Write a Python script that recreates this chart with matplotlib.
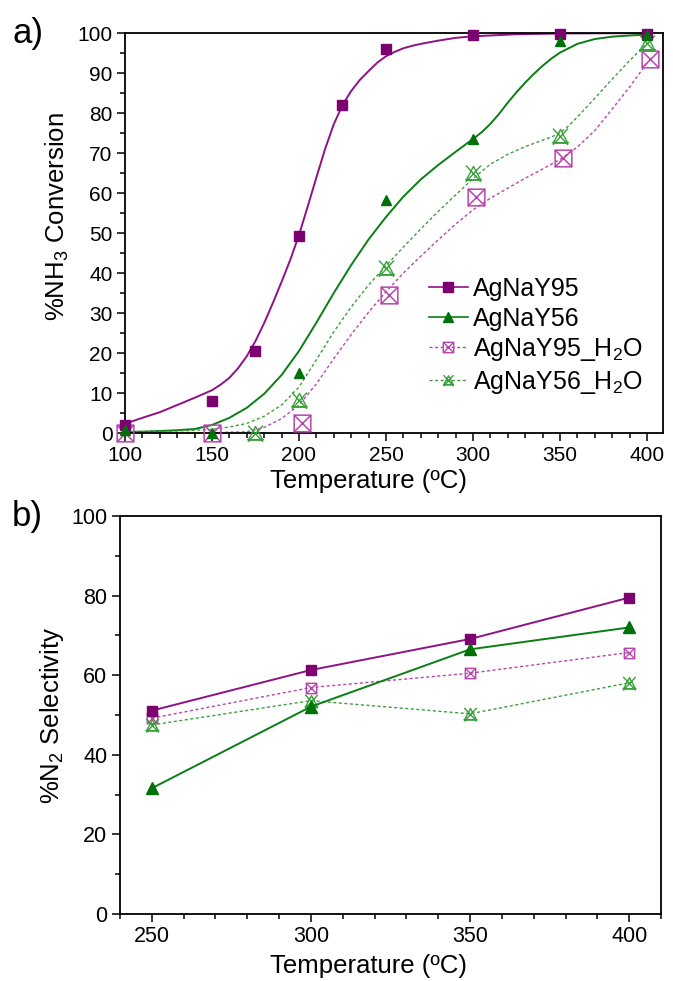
import matplotlib
matplotlib.use("Agg")
import matplotlib.pyplot as plt
from matplotlib.path import Path
from matplotlib.lines import Line2D
from matplotlib.ticker import MultipleLocator

plt.rcParams["font.family"] = ["Liberation Sans", "DejaVu Sans"]
plt.rcParams["mathtext.fontset"] = "custom"
plt.rcParams["mathtext.rm"] = "Liberation Sans"
plt.rcParams["mathtext.it"] = "Liberation Sans:italic"
plt.rcParams["mathtext.default"] = "regular"

# ---------------- data: NH3 conversion (panel a) ----------------
t95 = [100, 150, 175, 200, 225, 250, 300, 350, 400]
conv95 = [2.0, 8.1, 20.4, 49.3, 82.0, 95.9, 99.6, 99.8, 99.7]

t56 = [100, 150, 200, 250, 300, 350, 400]
conv56 = [0.8, 0.0, 14.9, 58.2, 73.5, 97.9, 99.6]

t95w = [100, 150, 202, 252, 302, 352, 402]
conv95w = [0.0, 0.0, 2.6, 34.5, 58.9, 68.8, 93.4]

t56w = [175, 200, 250, 300, 350, 400]
conv56w = [0.0, 8.2, 41.2, 65.0, 74.3, 97.4]

# fitted trend curves
fit95_t = [100, 110, 120, 130, 140, 150, 155, 160, 165, 170, 175, 180, 185,
           190, 195, 200, 205, 210, 215, 220, 225, 230, 235, 240, 245, 250,
           255, 260, 265, 270, 280, 290, 300, 325, 350, 400]
fit95_v = [2.3, 3.8, 5.2, 7.0, 8.8, 10.7, 12.1, 13.8, 16.2, 19.2, 23.0, 27.5,
           32.5, 37.8, 43.3, 49.5, 56.6, 63.9, 71.0, 77.2, 82.0, 85.5, 88.3,
           90.5, 92.6, 94.2, 95.3, 96.2, 96.8, 97.3, 98.1, 98.8, 99.2, 99.7,
           99.9, 100.0]

fit56_t = [100, 110, 120, 130, 140, 150, 160, 170, 180, 190, 200, 210, 220,
           230, 240, 250, 260, 270, 280, 290, 300, 305, 310, 315, 320, 325,
           330, 335, 340, 345, 350, 360, 370, 380, 390, 400]
fit56_v = [0.3, 0.35, 0.5, 0.7, 1.0, 2.0, 3.8, 6.3, 9.8, 14.5, 20.5, 27.6,
           35.0, 42.0, 48.4, 54.0, 59.1, 63.4, 67.0, 70.3, 73.5, 75.2, 77.3,
           79.8, 82.6, 85.2, 87.6, 89.8, 91.8, 93.6, 95.1, 97.3, 98.5, 99.1,
           99.4, 99.6]

fit95w_t = [100, 150, 170, 180, 190, 200, 210, 220, 230, 240, 250, 260, 270,
            280, 290, 300, 310, 320, 330, 340, 350, 360, 370, 380, 390, 400]
fit95w_v = [0.1, 0.1, 0.3, 1.4, 3.6, 7.0, 12.3, 18.6, 24.6, 30.2, 35.3, 40.0,
            44.2, 48.3, 52.2, 55.8, 58.7, 61.2, 63.7, 66.0, 68.4, 71.5, 75.6,
            81.0, 86.5, 92.5]

fit56w_t = [100, 125, 150, 160, 170, 180, 190, 200, 210, 220, 230, 240, 250,
            260, 270, 280, 290, 300, 310, 320, 330, 340, 345, 350, 355, 360,
            370, 380, 390, 400]
fit56w_v = [0.2, 0.4, 0.9, 1.5, 2.4, 4.2, 7.0, 11.5, 18.3, 25.3, 31.5, 37.0,
            41.8, 46.5, 51.0, 55.4, 59.5, 63.6, 67.2, 69.7, 71.6, 73.2, 74.0,
            75.0, 76.8, 79.0, 83.7, 88.5, 93.1, 97.4]

# ---------------- data: N2 selectivity (panel b) ----------------
tsel = [250, 300, 350, 400]
sel95 = [51.1, 61.3, 69.1, 79.5]
sel56 = [31.6, 52.1, 66.5, 72.0]
sel95w = [49.2, 56.9, 60.5, 65.7]
sel56w = [47.5, 53.6, 50.3, 58.1]

labels = ["AgNaY95", "AgNaY56", "AgNaY95_H$_2$O", "AgNaY56_H$_2$O"]

# ---------------- styles ----------------
PURPLE = "#7d0070"
PURPLE_LINE = "#8e1286"
GREEN = "#00700a"
GREEN_LINE = "#0a7d14"
PURPLE_LIGHT = "#b845ae"
GREEN_LIGHT = "#3aa03a"

M, L, C = Path.MOVETO, Path.LINETO, Path.CLOSEPOLY
box_x = Path([(-1, -1), (1, -1), (1, 1), (-1, 1), (-1, -1),
              (-1, -1), (1, 1), (-1, 1), (1, -1)],
             [M, L, L, L, C, M, L, M, L])
tri_x = Path([(-0.85, -0.75), (0.85, -0.75), (0, 0.85), (-0.85, -0.75),
              (-0.9, -1.0), (0.9, 0.95), (-0.9, 0.95), (0.9, -1.0),
              (-1.0, -0.75), (1.0, -0.75)],
             [M, L, L, C, M, L, M, L, M, L])

DOT = (0, (2.2, 1.8))
LABEL_SIZE = 18.5

fig = plt.figure(figsize=(6.73, 9.81), dpi=100)
ax1 = fig.add_axes([0.1857, 0.5586, 0.7994, 0.4077])
ax2 = fig.add_axes([0.1783, 0.0683, 0.8039, 0.4057])


def style_axes(ax, tick_size):
    for s in ax.spines.values():
        s.set_linewidth(1.3)
    ax.tick_params(which="both", direction="out", top=False, right=False,
                   labelsize=tick_size, width=1.1, pad=3)
    ax.tick_params(which="major", length=6)
    ax.tick_params(which="minor", length=3.5)


# ---------------- panel a ----------------
ax1.plot(fit95_t, fit95_v, color=PURPLE_LINE, lw=1.4)
ax1.plot(fit56_t, fit56_v, color=GREEN_LINE, lw=1.4)
ax1.plot(fit95w_t, fit95w_v, color=PURPLE_LIGHT, lw=1.0, ls=DOT)
ax1.plot(fit56w_t, fit56w_v, color=GREEN_LIGHT, lw=1.0, ls=DOT)

ax1.plot(t95, conv95, ls="none", marker="s", ms=6.5, color=PURPLE, clip_on=False, zorder=4)
ax1.plot(t56, conv56, ls="none", marker="^", ms=7.5, color=GREEN, clip_on=False, zorder=4)
ax1.plot(t95w, conv95w, ls="none", marker=box_x, ms=12, mfc="none",
         mec=PURPLE_LIGHT, mew=1.1, clip_on=False, zorder=3)
ax1.plot(t56w, conv56w, ls="none", marker=tri_x, ms=12, mfc="none",
         mec=GREEN_LIGHT, mew=1.0, clip_on=False, zorder=3)

ax1.set_xlim(100, 409.2)
ax1.set_ylim(0, 100)
ax1.xaxis.set_major_locator(MultipleLocator(50))
ax1.xaxis.set_minor_locator(MultipleLocator(10))
ax1.yaxis.set_major_locator(MultipleLocator(10))
ax1.yaxis.set_minor_locator(MultipleLocator(5))
style_axes(ax1, 15)
ax1.set_xlabel("Temperature (ºC)", fontsize=LABEL_SIZE)
ax1.set_ylabel("%NH$_3$ Conversion", fontsize=LABEL_SIZE)
ax1.xaxis.set_label_coords(0.453, -0.09)
ax1.yaxis.set_label_coords(-0.1, 0.54)

handles = [
    Line2D([], [], color=PURPLE_LINE, lw=1.2, marker="s", ms=6.5, mfc=PURPLE, mec=PURPLE),
    Line2D([], [], color=GREEN_LINE, lw=1.2, marker="^", ms=7.5, mfc=GREEN, mec=GREEN),
    Line2D([], [], color=PURPLE_LIGHT, lw=1.0, ls=DOT, marker=box_x, ms=7.5,
           mfc="none", mec=PURPLE_LIGHT, mew=1.0),
    Line2D([], [], color=GREEN_LIGHT, lw=1.0, ls=DOT, marker=tri_x, ms=8,
           mfc="none", mec=GREEN_LIGHT, mew=1.0),
]
ax1.legend(handles, labels, loc="upper left", bbox_to_anchor=(0.565, 0.39),
           frameon=False, fontsize=18, handlelength=1.56, handletextpad=0.2,
           labelspacing=0.22, borderpad=0, borderaxespad=0)

# ---------------- panel b ----------------
ax2.plot(tsel, sel95, color=PURPLE_LINE, lw=1.4, marker="s", ms=7,
         mfc=PURPLE, mec=PURPLE, clip_on=False, zorder=4)
ax2.plot(tsel, sel56, color=GREEN_LINE, lw=1.4, marker="^", ms=8,
         mfc=GREEN, mec=GREEN, clip_on=False, zorder=4)
ax2.plot(tsel, sel95w, color=PURPLE_LIGHT, lw=1.0, ls=DOT, marker=box_x, ms=7.5,
         mfc="none", mec=PURPLE_LIGHT, mew=1.0, zorder=3)
ax2.plot(tsel, sel56w, color=GREEN_LIGHT, lw=1.0, ls=DOT, marker=tri_x, ms=10,
         mfc="none", mec=GREEN_LIGHT, mew=1.0, zorder=3)

ax2.set_xlim(240, 410)
ax2.set_ylim(0, 100)
ax2.xaxis.set_major_locator(MultipleLocator(50))
ax2.xaxis.set_minor_locator(MultipleLocator(10))
ax2.yaxis.set_major_locator(MultipleLocator(20))
ax2.yaxis.set_minor_locator(MultipleLocator(10))
style_axes(ax2, 15.5)
ax2.set_xlabel("Temperature (ºC)", fontsize=LABEL_SIZE)
ax2.set_ylabel("%N$_2$ Selectivity", fontsize=LABEL_SIZE)
ax2.xaxis.set_label_coords(0.459, -0.1)
ax2.yaxis.set_label_coords(-0.1, 0.5)

# panel tags
fig.text(12 / 673, 1 - 43 / 981, "a)", fontsize=25, va="baseline", ha="left")
fig.text(12 / 673, 1 - 526 / 981, "b)", fontsize=25, va="baseline", ha="left")

fig.savefig("out.png", dpi=100)
